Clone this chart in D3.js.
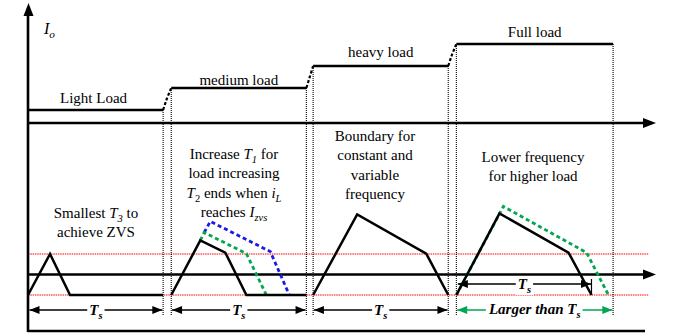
<!DOCTYPE html>
<html><head><meta charset="utf-8">
<script src="https://cdn.jsdelivr.net/npm/d3@7"></script>
<style>
body{margin:0;background:#fff}
svg{display:block}
svg text{font-family:"Liberation Serif","DejaVu Serif",serif}
</style>
</head><body>
<svg id="chart" width="685" height="333"></svg>
<script>
// Load stages and their output current level
const stages = ["Light Load", "medium load", "heavy load", "Full load"];
const loadLevel = [1, 2, 3, 4];
// Start of the switching cycle shown for each stage, and its length (Ts = 100)
const stageStart = [0, 106, 211, 317];
const stageLength = [100, 100, 100, 116];
const Ts = 100;

// Inductor current within one cycle: [time, iL / Izvs]
const iLight      = [[0,-1],[16.3,1],[31.1,-1],[100,-1]];
const iMedium     = [[0,-1],[21.5,1.66],[40,1.07],[55.6,-1],[100,-1]];
const iMediumMid  = [[21.5,1.66],[24.4,2.05],[55.6,1.02],[70.4,-1]];
const iMediumHigh = [[24.4,2.05],[28.9,2.59],[73.3,1.12],[87.4,-1]];
const iHeavy      = [[0,-1],[32.6,2.93],[83.7,1.02],[100,-1]];
const iFull       = [[0,-1],[31.9,2.98],[83,1.07],[100,-1]];
const iFullLong   = [[0,-1],[34.8,3.32],[96.3,1.07],[112.6,-1]];

// Notes written inside each stage (segments: text, italic, subscript)
const notes = [
  [[["Smallest "],["T",1],["3",1,1],[" to"]], [["achieve ZVS"]]],
  [[["Increase "],["T",1],["1",1,1],[" for"]], [["load increasing"]],
   [["T",1],["2",0,1],[" ends when "],["i",1],["L",1,1]], [["reaches "],["I",1],["zvs",1,1]]],
  [[["Boundary for"]], [["constant and"]], [["variable"]], [["frequency"]]],
  [[["Lower frequency"]], [["for higher load"]]]
];
const noteTop = [218, 159, 141, 162];
const noteX = [96, 234, 375, 533];
const labelLift = [7, 3, 9, 7];

const svg = d3.select("#chart");

const x = d3.scaleLinear().domain([0, 464]).range([28, 655]);
const yLoad = d3.scaleLinear().domain([1, 4]).range([110, 44]);
const yI = d3.scaleLinear().domain([-1, 1]).range([295, 254]);

function arrowHead(g, tipX, tipY, dir, color, len = 11, half = 4.5) {
  // dir: unit vector pointing to the tip
  const [dx, dy] = dir, bx = tipX - dx * len, by = tipY - dy * len;
  const px = -dy * half, py = dx * half;
  g.append("path")
    .attr("d", `M${tipX},${tipY}L${bx + px},${by + py}L${bx - px},${by - py}Z`)
    .attr("fill", color);
}

function richText(g, x0, y0, segs, opt = {}) {
  const size = opt.size || 15;
  const t = g.append("text").attr("x", x0).attr("y", y0)
    .attr("text-anchor", opt.anchor || "middle")
    .attr("font-size", size)
    .attr("font-weight", opt.bold ? "bold" : "normal")
    .attr("fill", opt.color || "#000");
  let shifted = false;
  segs.forEach(([s, it, sub]) => {
    const sp = t.append("tspan").text(s)
      .attr("font-style", it ? "italic" : "normal");
    if (sub) {
      sp.attr("font-size", size * 0.7);
      if (!shifted) { sp.attr("dy", 4); shifted = true; }
    } else if (shifted) { sp.attr("dy", -4); shifted = false; }
  });
  return t;
}

function withBackground(g, textSel, pad = 1) {
  const b = textSel.node().getBBox();
  g.insert("rect", () => textSel.node())
    .attr("x", b.x - pad).attr("y", b.y).attr("width", b.width + 2 * pad).attr("height", b.height)
    .attr("fill", "#fff");
}

const g = svg.append("g");

// Red reference levels (+Izvs and -Izvs)
[1, -1].forEach(v => {
  g.append("line").attr("x1", x(0)).attr("x2", 649).attr("y1", yI(v)).attr("y2", yI(v))
    .attr("stroke", "#ff0000").attr("stroke-width", 1.1).attr("stroke-dasharray", "1.5,0.8");
});

// Output current steps
stages.forEach((s, k) => {
  const x0 = x(stageStart[k]), x1 = x(stageStart[k] + stageLength[k]);
  const y = yLoad(loadLevel[k]);
  g.append("line").attr("x1", k === 0 ? x(0) : x0).attr("x2", x1).attr("y1", y).attr("y2", y)
    .attr("stroke", "#000").attr("stroke-width", 2.4);
  richText(g, (x0 + x1) / 2 + (k === 0 ? -2 : 0), y - labelLift[k], [[s]]);
  if (k > 0) {
    const px = x(stageStart[k - 1] + stageLength[k - 1]), py = yLoad(loadLevel[k - 1]);
    g.append("path")
      .attr("d", `M${px},${py}Q${px + 4},${(py + y) / 2 - 2} ${x0},${y}`)
      .attr("fill", "none").attr("stroke", "#000").attr("stroke-width", 2.2)
      .attr("stroke-dasharray", "3,2");
  }
  // dotted cycle boundaries
  const edges = [];
  if (k > 0) edges.push([x0, y]);
  edges.push([x1, y]);
  edges.forEach(([ex, ey]) => {
    g.append("line").attr("x1", ex).attr("x2", ex).attr("y1", ey).attr("y2", 316)
      .attr("stroke", "#000").attr("stroke-width", 1.1).attr("stroke-dasharray", "1,1");
  });
});

// Axes
g.append("line").attr("x1", x(0)).attr("x2", 647).attr("y1", 123).attr("y2", 123)
  .attr("stroke", "#000").attr("stroke-width", 2.6);
arrowHead(g, 656, 123, [1, 0], "#000", 13, 5);
g.append("line").attr("x1", x(0)).attr("x2", 647).attr("y1", yI(0)).attr("y2", yI(0))
  .attr("stroke", "#000").attr("stroke-width", 2.6);
arrowHead(g, 656, yI(0), [1, 0], "#000", 13, 5);
g.append("line").attr("x1", x(0)).attr("x2", x(0)).attr("y1", 12).attr("y2", 332)
  .attr("stroke", "#000").attr("stroke-width", 2.6);
arrowHead(g, x(0) + 0.5, 3, [0, -1], "#000", 13, 5);
g.append("line").attr("x1", x(0)).attr("x2", 645).attr("y1", 331).attr("y2", 331)
  .attr("stroke", "#000").attr("stroke-width", 2.6);
richText(g, 44, 34, [["I", 1], ["o", 1, 1]], { anchor: "start", size: 16 });

// Inductor current waveforms
const wave = (k) => d3.line().x(d => x(stageStart[k] + d[0])).y(d => yI(d[1]));
function drawWave(k, pts, color, dashed) {
  g.append("path").attr("d", wave(k)(pts)).attr("fill", "none")
    .attr("stroke", color).attr("stroke-width", dashed ? 2.8 : 2.5)
    .attr("stroke-linejoin", "miter")
    .attr("stroke-dasharray", dashed ? "4,3" : null);
}
drawWave(1, iMediumHigh, "#1a1ae6", true);
drawWave(1, iMediumMid, "#00a651", true);
drawWave(3, iFullLong, "#00a651", true);
drawWave(0, iLight, "#000");
drawWave(1, iMedium, "#000");
drawWave(2, iHeavy, "#000");
drawWave(3, iFull, "#000");

// Notes
notes.forEach((lines, k) => {
  lines.forEach((segs, j) => richText(g, noteX[k], noteTop[k] + j * 19.3, segs));
});

// Cycle-length dimension arrows
function dimension(x0, x1, y, color, segs, baseY) {
  g.append("line").attr("x1", x0).attr("x2", x1).attr("y1", y).attr("y2", y)
    .attr("stroke", color).attr("stroke-width", 1.3);
  arrowHead(g, x0, y, [-1, 0], color, 10, 4);
  arrowHead(g, x1, y, [1, 0], color, 10, 4);
  const t = richText(g, (x0 + x1) / 2, baseY, segs, { bold: true, size: 15 });
  withBackground(g, t, 2);
}
stages.forEach((s, k) => {
  const x0 = x(stageStart[k]) + (k === 0 ? 1.5 : 0.8), x1 = x(stageStart[k] + stageLength[k]) - 0.8;
  if (k < 3) dimension(x0, x1, 310, "#000", [["T", 1], ["s", 1, 1]], 315);
  else dimension(x0, x1, 310, "#00a651", [["Larger than ", 1], ["T", 1], ["s", 1, 1]], 314);
});
// One nominal period inside the last stage
const fx0 = x(stageStart[3]) + 1.5, fx1 = x(stageStart[3] + Ts);
g.append("line").attr("x1", fx1).attr("x2", fx1).attr("y1", 279).attr("y2", yI(-1))
  .attr("stroke", "#000").attr("stroke-width", 1.2);
dimension(fx0, fx1 - 0.5, 284, "#000", [["T", 1], ["s", 1, 1]], 289);
</script>
</body></html>
